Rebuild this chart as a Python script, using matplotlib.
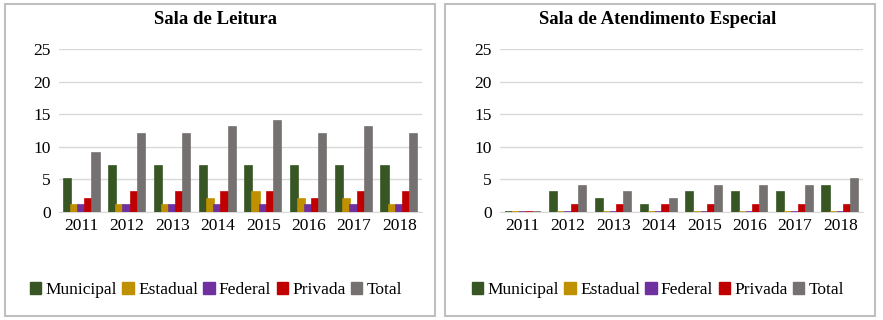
import numpy as np
import matplotlib
matplotlib.use("Agg")
import matplotlib.pyplot as plt
from matplotlib.patches import Rectangle, Patch

plt.rcParams['font.family'] = ['Liberation Serif', 'DejaVu Serif']

anos = ["2011", "2012", "2013", "2014", "2015", "2016", "2017", "2018"]
series = ["Municipal", "Estadual", "Federal", "Privada", "Total"]
cores = ["#375623", "#BF9000", "#7030A0", "#C00000", "#767171"]

# Sala de Leitura
leitura_municipal = [5, 7, 7, 7, 7, 7, 7, 7]
leitura_estadual = [1, 1, 1, 2, 3, 2, 2, 1]
leitura_federal = [1, 1, 1, 1, 1, 1, 1, 1]
leitura_privada = [2, 3, 3, 3, 3, 2, 3, 3]
leitura_total = [9, 12, 12, 13, 14, 12, 13, 12]

# Sala de Atendimento Especial
especial_municipal = [0, 3, 2, 1, 3, 3, 3, 4]
especial_estadual = [0, 0, 0, 0, 0, 0, 0, 0]
especial_federal = [0, 0, 0, 0, 0, 0, 0, 0]
especial_privada = [0, 1, 1, 1, 1, 1, 1, 1]
especial_total = [0, 4, 3, 2, 4, 4, 4, 5]

fig = plt.figure(figsize=(8.83, 3.2), dpi=100)

# bordas dos paineis
for x0 in [5, 445]:
    fig.patches.append(Rectangle((x0 / 883, 4 / 320), 430 / 883, 312 / 320,
                                 transform=fig.transFigure, fill=False,
                                 edgecolor="#BFBFBF", linewidth=1.5))


def painel(left, titulo, dados, centro):
    ax = fig.add_axes([left / 883, 1 - 212 / 320, 363 / 883, 163 / 320])
    x = np.arange(len(anos))
    w = 0.158
    ax.grid(axis="y", color="#D9D9D9", linewidth=1, zorder=0)
    for i, (vals, cor) in enumerate(zip(dados, cores)):
        ax.bar(x + (i - 2) * w, vals, width=w, color=cor,
               edgecolor=cor, linewidth=1.2, zorder=3)
    ax.set_xlim(-0.5, len(anos) - 0.5)
    ax.set_ylim(0, 25)
    ax.set_yticks([0, 5, 10, 15, 20, 25])
    ax.set_xticks(x)
    ax.set_xticklabels(anos)
    ax.tick_params(length=0, labelsize=12.5, pad=4, colors="#000000")
    ax.tick_params(axis="y", pad=6)
    for s in ["top", "right", "left"]:
        ax.spines[s].set_visible(False)
    ax.spines["bottom"].set_color("#D9D9D9")
    ax.spines["bottom"].set_zorder(1)
    fig.text(centro / 883, 1 - 20 / 320, titulo, ha="center", va="center",
             fontsize=13.5, fontweight="bold")
    handles = [Patch(facecolor=c, edgecolor=c) for c in cores]
    fig.legend(handles, series, loc="center", ncol=5, frameon=False,
               bbox_to_anchor=(centro / 883, 1 - 290 / 320),
               fontsize=12.5, handlelength=0.65, handleheight=0.65,
               handletextpad=0.25, columnspacing=0.3)
    return ax


painel(59, "Sala de Leitura",
       [leitura_municipal, leitura_estadual, leitura_federal,
        leitura_privada, leitura_total], 216)
painel(500, "Sala de Atendimento Especial",
       [especial_municipal, especial_estadual, especial_federal,
        especial_privada, especial_total], 658)

fig.savefig("out.png", dpi=100)
